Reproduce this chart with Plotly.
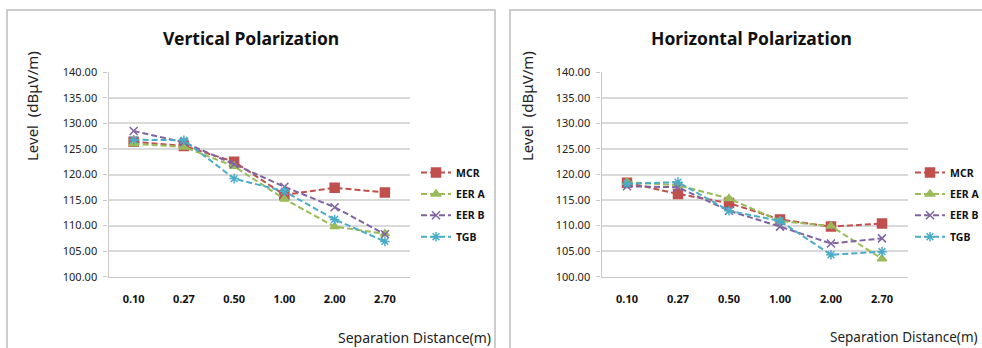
import plotly.graph_objects as go

W, H = 982, 348

categories = ["0.10", "0.27", "0.50", "1.00", "2.00", "2.70"]
series_names = ["MCR", "EER A", "EER B", "TGB"]

vert_mcr = [126.4, 125.6, 122.5, 116.0, 117.4, 116.5]
vert_eera = [126.0, 125.4, 121.6, 115.2, 109.8, 108.4]
vert_eerb = [128.5, 126.3, 122.0, 117.6, 113.6, 108.3]
vert_tgb = [126.8, 126.7, 119.2, 116.7, 111.2, 106.9]

horz_mcr = [118.4, 116.2, 114.4, 111.2, 109.8, 110.4]
horz_eera = [118.5, 117.9, 115.3, 110.9, 109.9, 103.5]
horz_eerb = [117.7, 117.5, 112.9, 109.8, 106.5, 107.5]
horz_tgb = [118.2, 118.5, 112.9, 110.9, 104.3, 104.9]

y_ticks = [100, 105, 110, 115, 120, 125, 130, 135, 140]

colors = ["#C0504D", "#9BBB59", "#8064A2", "#4BACC6"]
symbols = ["square", "triangle-up", "x-thin-open", "asterisk-open"]

def px(x):
    return x / W

def py(y):
    return 1 - y / H

fig = go.Figure()
font_main = "Noto Sans"
legend_font = dict(family=font_main, size=10.5, color="#111", weight="bold")

panels = [
    ([vert_mcr, vert_eera, vert_eerb, vert_tgb], "x", "y", 416),
    ([horz_mcr, horz_eera, horz_eerb, horz_tgb], "x2", "y2", 910),
]
legends = {}
k = 0
for vals, xa, ya, lx in panels:
    for i, (name, v, c, s) in enumerate(zip(series_names, vals, colors, symbols)):
        k += 1
        lid = "legend" if k == 1 else f"legend{k}"
        legends[lid] = dict(x=px(lx), y=py(172.5 + 21.4 * i), xanchor="left", yanchor="middle",
                            font=legend_font, bgcolor="rgba(0,0,0,0)", itemwidth=30,
                            borderwidth=0)
        fig.add_trace(go.Scatter(
            x=categories, y=v, name=name, mode="lines+markers",
            xaxis=xa, yaxis=ya, legend=lid,
            line=dict(color=c, width=2, dash="6px,3px"),
            marker=dict(symbol=s, size=9 if s == "square" else 8, color=c,
                        line=dict(color=c, width=1.5)),
        ))

def yaxis_cfg():
    return dict(
        domain=[py(276.7), py(72.3)], range=[100, 140], tickvals=y_ticks,
        tickformat=".2f", showgrid=True, gridcolor="#d9d9d9", gridwidth=1.5,
        showline=True, linecolor="#c8c8c8", linewidth=1.2,
        ticks="outside", ticklen=4, tickcolor="#c8c8c8", ticklabelstandoff=4,
        tickfont=dict(family=font_main, size=11, color="#222"),
        zeroline=False, fixedrange=True,
    )

def xaxis_cfg(x0, x1, anchor):
    return dict(
        domain=[px(x0), px(x1)], anchor=anchor, range=[-0.5, 5.5],
        type="category", showgrid=False, showline=True, linecolor="#c8c8c8",
        linewidth=1.2, ticks="", ticklabelstandoff=12,
        tickfont=dict(family=font_main, size=11, color="#111", weight="bold"),
        zeroline=False, fixedrange=True,
    )

fig.update_layout(
    width=W, height=H, margin=dict(l=0, r=0, t=0, b=0, autoexpand=False),
    paper_bgcolor="white", plot_bgcolor="white",
    font=dict(family=font_main, color="#222"),
    xaxis=xaxis_cfg(108.5, 410, "y"),
    yaxis=yaxis_cfg() | dict(anchor="x"),
    xaxis2=xaxis_cfg(601.5, 907.5, "y2"),
    yaxis2=yaxis_cfg() | dict(anchor="x2"),
    showlegend=True,
    **legends,
)

# panel borders
for x0, x1 in [(7, 495), (510, 990)]:
    fig.add_shape(type="rect", xref="paper", yref="paper",
                  x0=px(x0), x1=px(x1), y0=py(360), y1=py(10),
                  line=dict(color="#bdbdbd", width=1.5), fillcolor="rgba(0,0,0,0)",
                  layer="below")

annots = [
    ("Vertical Polarization", 251, 38),
    ("Horizontal Polarization", 751, 38),
]
for text, x, y in annots:
    fig.add_annotation(text=text, x=px(x), y=py(y), xref="paper", yref="paper",
                       showarrow=False, xanchor="center", yanchor="middle",
                       font=dict(family=font_main, size=17.5, color="#111", weight="bold"))

for x in [32, 527]:
    fig.add_annotation(text="Level  (dBμV/m)", x=px(x), y=py(106), xref="paper", yref="paper",
                       showarrow=False, textangle=-90, xanchor="center", yanchor="middle",
                       font=dict(family=font_main, size=15, color="#222"))

fig.add_annotation(text="Separation Distance(m)", x=px(493), y=py(337), xref="paper", yref="paper",
                   showarrow=False, xanchor="right", yanchor="middle",
                   font=dict(family=font_main, size=14, color="#222"))
fig.add_annotation(text="Separation Distance(m)", x=px(980), y=py(337), xref="paper", yref="paper",
                   showarrow=False, xanchor="right", yanchor="middle",
                   font=dict(family=font_main, size=13.5, color="#222"))

fig.write_html("out.html")
